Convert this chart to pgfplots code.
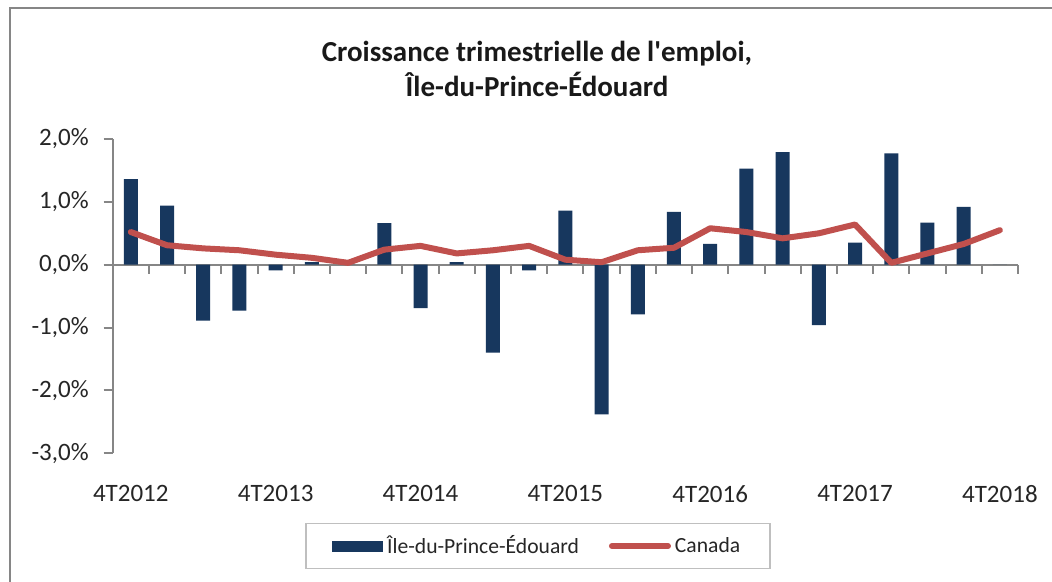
\documentclass[border=0pt]{standalone}
\usepackage{fontspec}
\setmainfont{Carlito}[Ligatures=TeXOff]
\usepackage{pgfplots}
\pgfplotsset{compat=1.18}
\definecolor{navy}{HTML}{17375E}
\definecolor{redl}{HTML}{C0504D}
\definecolor{axgray}{HTML}{868686}
\definecolor{leggray}{HTML}{BFBFBF}

\begin{document}
\begin{tikzpicture}
\useasboundingbox (0,0) rectangle (526pt,-291pt);
\fill[white] (0,0) rectangle (526pt,-291pt);
\draw[axgray, line width=1pt] (5pt,-291pt) -- (5pt,-4pt) -- (526pt,-4pt);

% zero line with tick marks between categories
\begin{axis}[
  at={(56.35pt,-226.65pt)}, anchor=south west,
  scale only axis, width=452.65pt, height=157.15pt,
  xmin=-0.5, xmax=24.5, ymin=-3, ymax=2,
  axis x line=middle, axis y line=none,
  x axis line style={-, axgray, line width=1pt},
  xtick={-0.5,0.5,...,24.5}, xticklabels={},
  major tick length=4.5pt, tick align=outside,
  xtick style={axgray, line width=1pt},
  ytick=\empty,
]
\addplot[draw=none] coordinates {(0,0)};
\end{axis}

\begin{axis}[
  at={(56.35pt,-226.65pt)}, anchor=south west,
  scale only axis, width=452.65pt, height=157.15pt,
  xmin=-0.5, xmax=24.5, ymin=-3, ymax=2,
  axis y line*=left, axis x line*=bottom,
  x axis line style={draw=none},
  y axis line style={-, axgray, line width=1pt},
  xtick={0,4,...,24},
  xticklabels={4T2012,4T2013,4T2014,4T2015,4T2016,4T2017,4T2018},
  x tick style={draw=none},
  ytick={-3,-2,-1,0,1,2},
  yticklabels={{-3,0\%},{-2,0\%},{-1,0\%},{0,0\%},{1,0\%},{2,0\%}},
  y tick style={axgray, line width=1pt},
  tick align=outside, major tick length=4.5pt,
  ticklabel style={font=\fontsize{12.5}{15}\selectfont, text=black!85},
  xticklabel style={yshift=-8pt},
  yticklabel style={xshift=-4pt},
  legend style={at={(0.470,-0.295)}, anchor=center, legend columns=2,
    draw=leggray, line width=0.75pt,
    font=\fontsize{10.8}{12}\selectfont, text=black!85,
    inner xsep=13pt, inner ysep=4pt,
    /tikz/every even column/.append style={column sep=13pt}},
]
\addplot[ybar, bar width=7pt, fill=navy, draw=none,
  legend image code/.code={\fill[navy] (0pt,-2.75pt) rectangle (25.5pt,2.75pt);}]
  coordinates {
  (0,1.36) (1,0.94) (2,-0.89) (3,-0.73) (4,-0.09) (5,0.04) (6,0.00)
  (7,0.66) (8,-0.69) (9,0.04) (10,-1.40) (11,-0.09) (12,0.86)
  (13,-2.38) (14,-0.79) (15,0.84) (16,0.33) (17,1.53) (18,1.79)
  (19,-0.96) (20,0.35) (21,1.77) (22,0.67) (23,0.92) (24,0.00)
  };
\addlegendentry{Île-du-Prince-Édouard}
\addplot[redl, line width=3pt, line join=round, line cap=round, mark=none,
  legend image code/.code={\draw[redl, line width=3pt, line cap=round] (0pt,0pt) -- (28pt,0pt);}]
  coordinates {
  (0,0.52) (1,0.31) (2,0.26) (3,0.23) (4,0.16) (5,0.11) (6,0.03)
  (7,0.24) (8,0.30) (9,0.18) (10,0.23) (11,0.30) (12,0.08)
  (13,0.04) (14,0.23) (15,0.27) (16,0.58) (17,0.52) (18,0.42)
  (19,0.50) (20,0.64) (21,0.03) (22,0.18) (23,0.33) (24,0.55)
  };
\addlegendentry{Canada}
\end{axis}

\node[font=\fontsize{14.5}{17.5}\selectfont\bfseries, align=center, text=black!90]
  at (268.5pt,-34.25pt) {Croissance trimestrielle de l'emploi,\\Île-du-Prince-Édouard};
\end{tikzpicture}
\end{document}
